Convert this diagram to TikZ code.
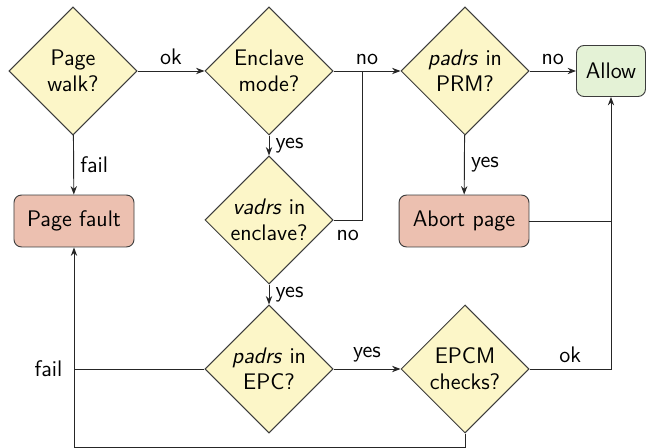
\documentclass[tikz,border=0pt]{standalone}
\usetikzlibrary{shapes.geometric,arrows.meta}
\renewcommand{\familydefault}{\sfdefault}
\definecolor{qfill}{RGB}{252,246,200}
\definecolor{faultfill}{RGB}{236,192,176}
\definecolor{allowfill}{RGB}{228,242,214}
\definecolor{edgegray}{RGB}{60,60,60}
\begin{document}
\begin{tikzpicture}[x=0.5333pt,y=-0.5333pt,
  font=\large,
  decision/.style={diamond, aspect=1, minimum size=68.3pt, inner sep=0pt,
    align=center, draw=edgegray, line width=0.5pt, fill=qfill},
  fault/.style={rectangle, rounded corners=4pt, minimum height=27.7pt,
    minimum width=64pt, inner sep=2pt, draw=edgegray, line width=0.5pt, fill=faultfill},
  allowbox/.style={rectangle, rounded corners=4pt, minimum height=27.2pt,
    minimum width=36.8pt, inner sep=2pt, draw=edgegray, line width=0.5pt, fill=allowfill},
  flow/.style={draw=black!85, line width=0.5pt},
  arr/.style={flow, -{Stealth[length=4.5pt,width=3.4pt]}}]
\useasboundingbox (0,0) rectangle (646,448);

% decisions
\node[decision] (walk) at (73,71) {Page\\walk?};
\node[decision] (encl) at (269,71) {Enclave\\mode?};
\node[decision] (prm)  at (465,71) {\textit{padrs} in\\PRM?};
\node[decision] (vad)  at (269,220) {\textit{vadrs} in\\enclave?};
\node[decision] (epc)  at (269,369) {\textit{padrs} in\\EPC?};
\node[decision] (epcm) at (465,369) {EPCM\\checks?};

% outcomes
\node[allowbox] (allow) at (611,71) {Allow};
\node[fault] (pf) at (74,221) {Page fault};
\node[fault, minimum width=69.3pt] (abort) at (464,221) {Abort page};

\coordinate (merge) at (362,71);
\coordinate (bot) at (0,447.2);

% connectors
\draw[arr] (walk) -- node[above] {ok} (encl);
\draw[arr] (walk) -- node[right] {fail} (pf);
\draw[arr] (encl) -- node[above] {no} (prm);
\draw[arr] (encl) -- node[right] {yes} (vad);
\draw[flow] (vad.east) -- node[below, yshift=-2pt] {no} (vad.east -| merge) -- (merge);
\draw[arr] (vad) -- node[right] {yes} (epc);
\draw[arr] (prm) -- node[above] {no} (allow);
\draw[arr] (prm) -- node[right] {yes} (abort);
\draw[arr] (epc) -- node[above] {yes} (epcm);
\draw[flow] (abort.east) -- (abort.east -| allow.south);
\draw[arr] (epcm.east) -- node[above] {ok} (epcm.east -| allow.south) -- (allow.south);
\draw[flow] (epc.west) -- (epc.west -| pf.south) node[left, inner sep=6pt] {fail};
\draw[arr] (epcm.south) |- (pf.south |- bot) -- (pf.south);
\end{tikzpicture}
\end{document}
